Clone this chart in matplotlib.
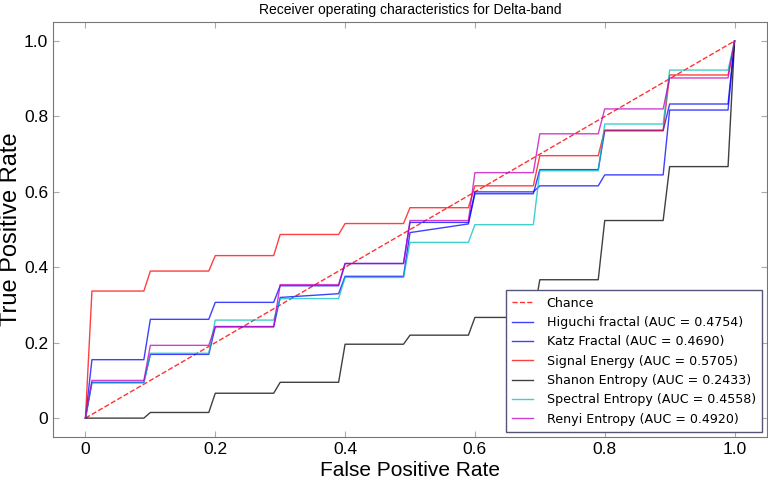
import matplotlib
matplotlib.use("Agg")
import matplotlib.pyplot as plt

plt.rcParams['font.family'] = ['Liberation Sans', 'DejaVu Sans']

# shared false positive rates for the step curves
fpr = [0, 0.01, 0.09, 0.1, 0.19, 0.2, 0.29, 0.3, 0.39, 0.4, 0.49,
       0.5, 0.59, 0.6, 0.69, 0.7, 0.79, 0.8, 0.89, 0.9, 0.99, 1.0]

tpr_higuchi = [0, 0.155, 0.155, 0.262, 0.262, 0.307, 0.307, 0.351, 0.351,
               0.41, 0.41, 0.519, 0.519, 0.600, 0.600, 0.616, 0.616,
               0.645, 0.645, 0.817, 0.817, 1.0]
tpr_katz = [0, 0.095, 0.095, 0.169, 0.169, 0.242, 0.242, 0.320, 0.330,
            0.376, 0.376, 0.492, 0.515, 0.595, 0.595, 0.659, 0.659,
            0.762, 0.762, 0.833, 0.833, 1.0]
tpr_energy = [0, 0.337, 0.337, 0.39, 0.39, 0.431, 0.431, 0.487, 0.487,
              0.516, 0.516, 0.558, 0.558, 0.616, 0.616, 0.696, 0.696,
              0.764, 0.764, 0.910, 0.910, 1.0]
tpr_shanon = [0, 0, 0, 0.015, 0.015, 0.066, 0.066, 0.095, 0.095,
              0.196, 0.196, 0.220, 0.220, 0.267, 0.267, 0.367, 0.367,
              0.524, 0.524, 0.667, 0.667, 1.0]
tpr_spectral = [0, 0.093, 0.093, 0.172, 0.172, 0.260, 0.260, 0.317, 0.317,
                0.373, 0.373, 0.466, 0.466, 0.513, 0.513, 0.656, 0.656,
                0.780, 0.780, 0.923, 0.923, 1.0]
tpr_renyi = [0, 0.100, 0.100, 0.193, 0.193, 0.243, 0.243, 0.354, 0.354,
             0.41, 0.41, 0.524, 0.524, 0.651, 0.651, 0.754, 0.754,
             0.820, 0.820, 0.902, 0.902, 1.0]

curves = [
    ("Higuchi fractal (AUC = 0.4754)", tpr_higuchi, "blue"),
    ("Katz Fractal (AUC = 0.4690)", tpr_katz, "blue"),
    ("Signal Energy (AUC = 0.5705)", tpr_energy, "red"),
    ("Shanon Entropy (AUC = 0.2433)", tpr_shanon, "black"),
    ("Spectral Entropy (AUC = 0.4558)", tpr_spectral, "c"),
    ("Renyi Entropy (AUC = 0.4920)", tpr_renyi, "m"),
]

ticks = [0, 0.2, 0.4, 0.6, 0.8, 1.0]
tick_labels = ["0", "0.2", "0.4", "0.6", "0.8", "1.0"]

fig = plt.figure(figsize=(7.68, 4.82), dpi=100)
ax = fig.add_axes([0.069, 0.0934, 0.9297, 0.8606])

ax.plot([0, 1], [0, 1], "--", color="red", lw=1, alpha=0.8, label="Chance")
for name, tpr, col in curves:
    ax.plot(fpr, tpr, color=col, lw=1, alpha=0.75, label=name)

ax.set_xlim(-0.05, 1.05)
ax.set_ylim(-0.05, 1.05)
ax.set_xticks(ticks)
ax.set_xticklabels(tick_labels)
ax.set_yticks(ticks)
ax.set_yticklabels(tick_labels)
ax.tick_params(direction="in", top=True, right=True, length=4,
               labelsize=12.5, color="#aaaaaa")
for sp in ax.spines.values():
    sp.set_color("#777777")

ax.set_xlabel("False Positive Rate", fontsize=15, labelpad=3)
ax.set_ylabel("True Positive Rate", fontsize=17, labelpad=1)
ax.set_title("Receiver operating characteristics for Delta-band", fontsize=10)
leg = ax.legend(loc="lower right", prop={"family": "DejaVu Sans", "size": 9.1},
                fancybox=False, framealpha=1, borderaxespad=0.4, borderpad=0.5,
                labelspacing=0.5, handlelength=1.6, handletextpad=1.1)
leg.get_frame().set_edgecolor("#555577")

fig.savefig("out.png", dpi=100)
